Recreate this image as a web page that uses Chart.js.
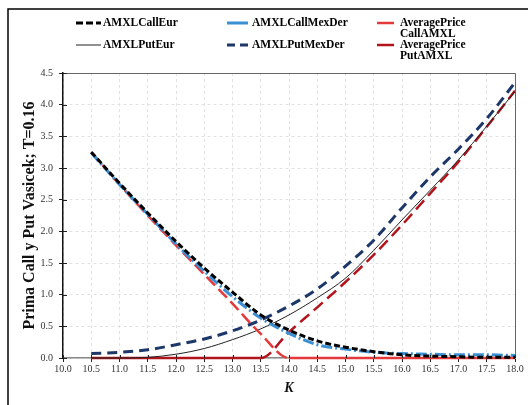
<!DOCTYPE html>
<html>
<head>
<meta charset="utf-8">
<script src="https://cdn.jsdelivr.net/npm/chart.js@4"></script>
<style>
  body { margin: 0; background: #fff; }
  #wrap { width: 528px; height: 405px; }
</style>
</head>
<body>
<div id="wrap"><canvas id="primaChart"></canvas></div>
<script>
// Strike prices K
const strikes = [10.5, 11.0, 11.5, 12.0, 12.5, 13.0, 13.5, 14.0, 14.5, 15.0, 15.5, 16.0, 16.5, 17.0, 17.5, 18.0];

// Call premiums
const callEur = [3.25, 2.76, 2.29, 1.84, 1.42, 1.04, 0.68, 0.44, 0.27, 0.17, 0.10, 0.05, 0.03, 0.02, 0.01, 0.01];
const callMexDer = [3.24, 2.74, 2.27, 1.80, 1.37, 0.97, 0.63, 0.39, 0.21, 0.14, 0.09, 0.07, 0.06, 0.05, 0.05, 0.04];
const avgCall = [3.25, 2.74, 2.25, 1.78, 1.32, 0.86, 0.38, 0, 0, 0, 0, 0, 0, 0, 0, 0];

// Put premiums
const putEur = [0, 0, 0.01, 0.06, 0.15, 0.29, 0.46, 0.68, 0.95, 1.26, 1.70, 2.18, 2.65, 3.13, 3.66, 4.21];
const putMexDer = [0.07, 0.09, 0.13, 0.21, 0.30, 0.43, 0.60, 0.82, 1.09, 1.45, 1.86, 2.37, 2.86, 3.30, 3.78, 4.35];
const avgPut = [0, 0, 0, 0, 0, 0, 0, 0.41, 0.80, 1.20, 1.63, 2.10, 2.60, 3.10, 3.65, 4.22];

// Tick labels
const xTickLabels = ["10.0", "10.5", "11.0", "11.5", "12.0", "12.5", "13.0", "13.5", "14.0", "14.5", "15.0", "15.5", "16.0", "16.5", "17.0", "17.5", "18.0"];
const yTickLabels = ["0.0", "0.5", "1.0", "1.5", "2.0", "2.5", "3.0", "3.5", "4.0", "4.5"];

const serif = '"Liberation Serif", "Times New Roman", serif';

function points(values) {
  return strikes.map((k, i) => ({ x: k, y: values[i] }));
}

// solid line where the series sits on zero
const flatSolid = {
  borderDash: (c) => (c.p0.parsed.y === 0 && c.p1.parsed.y === 0 ? [] : undefined),
};

// legend grid + frame + inner ticks
const framePlugin = {
  id: "framePlugin",
  afterDraw(chart) {
    const { ctx, chartArea: a, scales } = chart;
    ctx.save();

    // top and right edge of plot box
    ctx.strokeStyle = "#666";
    ctx.lineWidth = 1;
    ctx.beginPath();
    ctx.moveTo(a.left, a.top + 0.5);
    ctx.lineTo(a.right + 0.5, a.top + 0.5);
    ctx.lineTo(a.right + 0.5, a.bottom);
    ctx.stroke();

    // tick marks inside the axes
    ctx.strokeStyle = "#222";
    ctx.beginPath();
    scales.x.ticks.forEach((t) => {
      const px = Math.round(scales.x.getPixelForValue(t.value)) + 0.5;
      ctx.moveTo(px, a.bottom);
      ctx.lineTo(px, a.bottom - 3);
    });
    scales.y.ticks.forEach((t) => {
      const py = Math.round(scales.y.getPixelForValue(t.value)) + 0.5;
      ctx.moveTo(a.left, py);
      ctx.lineTo(a.left + 4, py);
    });
    ctx.stroke();

    // outer frame
    ctx.strokeStyle = "#000";
    ctx.lineWidth = 1.5;
    ctx.strokeRect(8, 9, 700, 700);

    // legend
    const cols = [[76, 101, 103], [227, 248, 252], [377, 394, 400]];
    const rows = [23, 45];
    ctx.font = "bold 11.5px " + serif;
    ctx.textBaseline = "middle";
    ctx.textAlign = "left";
    chart.data.datasets.forEach((ds, i) => {
      const c = cols[i % 3];
      const y = rows[Math.floor(i / 3)];
      ctx.strokeStyle = ds.borderColor;
      ctx.lineWidth = ds.borderWidth;
      ctx.setLineDash(ds.legendDash || []);
      ctx.beginPath();
      ctx.moveTo(c[0], y);
      ctx.lineTo(c[1], y);
      ctx.stroke();
      ctx.setLineDash([]);
      ctx.fillStyle = "#000";
      const lines = Array.isArray(ds.label) ? ds.label : [ds.label];
      lines.forEach((txt, j) => ctx.fillText(txt, c[2], y + j * 11));
    });

    ctx.restore();
  },
};

new Chart(document.getElementById("primaChart"), {
  type: "line",
  data: {
    datasets: [
      {
        label: "AMXLCallEur",
        data: points(callEur),
        borderColor: "#000000",
        borderWidth: 3,
        borderDash: [6, 3],
        legendDash: [7, 3],
      },
      {
        label: "AMXLCallMexDer",
        data: points(callMexDer),
        borderColor: "#3b8fd3",
        borderWidth: 3,
        borderDash: [11, 3, 2, 3],
      },
      {
        label: ["AveragePrice", "CallAMXL"],
        data: points(avgCall),
        borderColor: "#e5383b",
        borderWidth: 2.5,
        borderDash: [12, 5],
        segment: flatSolid,
      },
      {
        label: "AMXLPutEur",
        data: points(putEur),
        borderColor: "#222222",
        borderWidth: 1,
      },
      {
        label: "AMXLPutMexDer",
        data: points(putMexDer),
        borderColor: "#1c3768",
        borderWidth: 3,
        borderDash: [10, 6],
        legendDash: [8, 5],
      },
      {
        label: ["AveragePrice", "PutAMXL"],
        data: points(avgPut),
        borderColor: "#b3141c",
        borderWidth: 2.5,
        borderDash: [12, 6],
        segment: flatSolid,
      },
    ],
  },
  options: {
    responsive: true,
    maintainAspectRatio: false,
    animation: false,
    clip: 6,
    layout: { padding: { top: 73, right: 13, bottom: 0, left: 0 } },
    elements: {
      point: { radius: 0 },
      line: { cubicInterpolationMode: "monotone", fill: false },
    },
    plugins: {
      legend: { display: false },
      tooltip: { enabled: false },
    },
    scales: {
      x: {
        type: "linear",
        min: 10,
        max: 18,
        afterFit: (s) => { s.height = 47; },
        ticks: {
          stepSize: 0.5,
          autoSkip: false,
          maxRotation: 0,
          padding: 1,
          color: "#333",
          font: { family: serif, size: 10 },
          callback: (v, i) => xTickLabels[i],
        },
        grid: { color: "#e2e2e2", tickColor: "#222", tickLength: 4 },
        border: { color: "#888", width: 1.5, dash: [3, 3] },
        title: {
          display: true,
          text: "K",
          color: "#111",
          font: { family: serif, size: 14, weight: "bold", style: "italic" },
          padding: { top: 0, bottom: 8 },
        },
      },
      y: {
        min: 0,
        max: 4.5,
        afterFit: (s) => { s.width = 63; },
        ticks: {
          stepSize: 0.5,
          padding: 6,
          color: "#333",
          font: { family: serif, size: 10 },
          callback: (v, i) => yTickLabels[i],
        },
        grid: { color: "#e2e2e2", tickColor: "#222", tickLength: 4 },
        border: { color: "#111", width: 1.5, dash: [3, 3] },
        title: {
          display: true,
          text: "Prima Call y Put Vasicek; T=0.16",
          color: "#111",
          font: { family: serif, size: 16, weight: "bold" },
          padding: { top: 20, bottom: 0 },
        },
      },
    },
  },
  plugins: [framePlugin],
});
</script>
</body>
</html>
